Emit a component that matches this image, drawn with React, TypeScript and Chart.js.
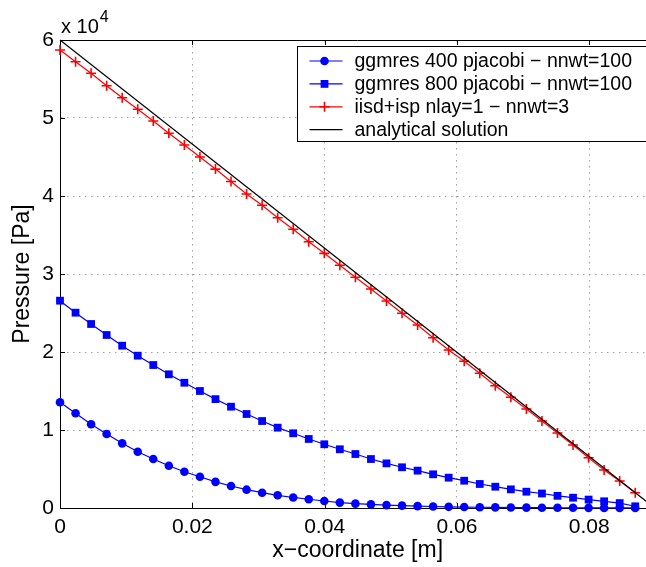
import React, { useEffect, useRef } from "react";
import { Chart, registerables } from "chart.js";

Chart.register(...registerables);

const FONT = '"Liberation Sans", Arial, Helvetica, sans-serif';

// node coordinates [m]
const xNodes = [
  0, 0.00235, 0.0047, 0.00705, 0.0094, 0.01175, 0.0141, 0.01645, 0.0188, 0.02115,
  0.0235, 0.02585, 0.0282, 0.03055, 0.0329, 0.03525, 0.0376, 0.03995, 0.0423, 0.04465,
  0.047, 0.04935, 0.0517, 0.05405, 0.0564, 0.05875, 0.0611, 0.06345, 0.0658, 0.06815,
  0.0705, 0.07285, 0.0752, 0.07755, 0.0799, 0.08225, 0.0846, 0.08695,
];

// pressure [Pa]
const ggmres400 = [
  13550, 12140, 10730, 9490, 8290, 7220, 6280, 5420, 4650, 4000,
  3350, 2820, 2350, 1960, 1630, 1350, 1120, 900, 690, 560,
  460, 370, 300, 240, 190, 150, 120, 95, 75, 60,
  48, 38, 30, 24, 19, 15, 12, 9,
];
const ggmres800 = [
  26580, 25040, 23590, 22180, 20810, 19530, 18330, 17140, 16060, 15000,
  13960, 12990, 12050, 11150, 10300, 9580, 8850, 8170, 7530, 6920,
  6280, 5720, 5220, 4790, 4320, 3890, 3500, 3080, 2730, 2390,
  2090, 1860, 1560, 1320, 1080, 860, 630, 220,
];
const iisdNlay1 = [
  58720, 57220, 55730, 54140, 52600, 51120, 49620, 48040, 46540, 45000,
  43450, 41850, 40260, 38810, 37220, 35730, 34140, 32650, 31120, 29580,
  28080, 26540, 24960, 23460, 21830, 20260, 18810, 17270, 15680, 14190,
  12690, 11150, 9620, 8080, 6450, 4870, 3460, 1960,
];
const analyticX = [0, 0.0899];
const analyticY = [60000, 0];

const seriesLabels = [
  "ggmres 400 pjacobi − nnwt=100",
  "ggmres 800 pjacobi − nnwt=100",
  "iisd+isp nlay=1 − nnwt=3",
  "analytical solution",
];
const xTicks = [0, 0.02, 0.04, 0.06, 0.08];
const xTickLabels = ["0", "0.02", "0.04", "0.06", "0.08"];
const yTicks = [0, 1, 2, 3, 4, 5, 6]; // x 10^4
const yScaleFactor = 10000;
const xTitle = "x−coordinate [m]";
const yTitle = "Pressure [Pa]";
const exponentBase = "x 10";
const exponentPower = "4";

const BLUE = "#0000ff";
const RED = "#ff0000";
const BLACK = "#000000";

const styles = [
  { color: BLUE, marker: "circle" },
  { color: BLUE, marker: "rect" },
  { color: RED, marker: "cross" },
  { color: BLACK, marker: "none" },
];

function drawMarker(ctx: CanvasRenderingContext2D, kind: string, x: number, y: number, color: string) {
  ctx.save();
  ctx.fillStyle = color;
  ctx.strokeStyle = color;
  ctx.lineWidth = 1.6;
  if (kind === "circle") {
    ctx.beginPath();
    ctx.arc(x, y, 4.3, 0, Math.PI * 2);
    ctx.fill();
  } else if (kind === "rect") {
    ctx.fillRect(x - 3.9, y - 3.9, 7.8, 7.8);
  } else if (kind === "cross") {
    ctx.beginPath();
    ctx.moveTo(x - 5, y);
    ctx.lineTo(x + 5, y);
    ctx.moveTo(x, y - 5);
    ctx.lineTo(x, y + 5);
    ctx.stroke();
  }
  ctx.restore();
}

const overlayPlugin = {
  id: "matlabOverlay",
  afterDatasetsDraw(chart: any) {
    const { ctx, chartArea: a, scales } = chart;
    const line = (x1: number, y1: number, x2: number, y2: number) => {
      ctx.beginPath();
      ctx.moveTo(x1, y1);
      ctx.lineTo(x2, y2);
      ctx.stroke();
    };
    ctx.save();
    ctx.strokeStyle = "#000";
    ctx.lineWidth = 1;
    // top frame
    line(a.left, Math.round(a.top) + 0.5, a.right, Math.round(a.top) + 0.5);
    // inward tick marks
    for (const v of xTicks) {
      const px = Math.round(scales.x.getPixelForValue(v)) + 0.5;
      line(px, a.bottom, px, a.bottom - 5);
      line(px, a.top, px, a.top + 5);
    }
    for (const v of yTicks) {
      const py = Math.round(scales.y.getPixelForValue(v * yScaleFactor)) + 0.5;
      line(a.left, py, a.left + 5, py);
      line(a.right, py, a.right - 5, py);
    }

    // legend box
    const lx = Math.round(a.left + 237) + 0.5;
    const ly = Math.round(a.top + 6) + 0.5;
    const lw = a.right - 5 - lx;
    const lh = 95;
    ctx.fillStyle = "#fff";
    ctx.fillRect(lx, ly, lw, lh);
    ctx.strokeStyle = "#000";
    ctx.strokeRect(lx, ly, lw, lh);
    ctx.font = `19.5px ${FONT}`;
    ctx.textBaseline = "middle";
    ctx.textAlign = "left";
    seriesLabels.forEach((label, k) => {
      const ry = ly + 14.5 + k * 22.9;
      const st = styles[k];
      ctx.strokeStyle = st.color;
      ctx.lineWidth = 1.2;
      line(lx + 12, ry, lx + 45, ry);
      drawMarker(ctx, st.marker, lx + 27, ry, st.color);
      ctx.fillStyle = "#000";
      ctx.fillText(label, lx + 57, ry + 1);
    });

    // exponent label
    ctx.fillStyle = "#000";
    ctx.textBaseline = "alphabetic";
    ctx.font = `20px ${FONT}`;
    ctx.fillText(exponentBase, a.left + 1, a.top - 7);
    const w = ctx.measureText(exponentBase).width;
    ctx.font = `16px ${FONT}`;
    ctx.fillText(exponentPower, a.left + 2 + w, a.top - 18);
    ctx.restore();
  },
};

export default function App() {
  const canvasRef = useRef<HTMLCanvasElement | null>(null);

  useEffect(() => {
    const canvas = canvasRef.current;
    if (!canvas) return;
    const mk = (xs: number[], ys: number[]) => xs.map((x, i) => ({ x, y: ys[i] }));
    const chart = new Chart(canvas, {
      type: "scatter",
      data: {
        datasets: [
          {
            label: seriesLabels[0],
            data: mk(xNodes, ggmres400),
            showLine: true,
            borderColor: BLUE,
            backgroundColor: BLUE,
            borderWidth: 1.2,
            pointStyle: "circle",
            pointRadius: 4.3,
            pointBorderWidth: 0,
            pointBackgroundColor: BLUE,
            clip: false,
            order: 3,
          },
          {
            label: seriesLabels[1],
            data: mk(xNodes, ggmres800),
            showLine: true,
            borderColor: BLUE,
            backgroundColor: BLUE,
            borderWidth: 1.2,
            pointStyle: "rect",
            pointRadius: 5.5,
            pointBorderWidth: 0,
            pointBackgroundColor: BLUE,
            clip: false,
            order: 2,
          },
          {
            label: seriesLabels[2],
            data: mk(xNodes, iisdNlay1),
            showLine: true,
            borderColor: RED,
            backgroundColor: RED,
            borderWidth: 1.2,
            pointStyle: "cross",
            pointRadius: 5,
            pointBorderWidth: 1.6,
            pointBorderColor: RED,
            clip: false,
            order: 1,
          },
          {
            label: seriesLabels[3],
            data: mk(analyticX, analyticY),
            showLine: true,
            borderColor: BLACK,
            backgroundColor: BLACK,
            borderWidth: 1.2,
            pointRadius: 0,
            clip: false,
            order: 0,
          },
        ],
      },
      options: {
        responsive: false,
        animation: false,
        devicePixelRatio: 1,
        layout: { padding: { top: 40, right: 24.6, left: 0, bottom: 0 } },
        plugins: {
          legend: { display: false },
          tooltip: { enabled: false },
        },
        scales: {
          x: {
            type: "linear",
            min: 0,
            max: 0.09,
            afterFit: (s: any) => {
              s.height = 59;
            },
            afterBuildTicks: (s: any) => {
              s.ticks = xTicks.map((v) => ({ value: v }));
            },
            ticks: {
              color: "#000",
              font: { family: FONT, size: 21 },
              padding: 7,
              maxRotation: 0,
              callback: (v: any) => {
                const i = xTicks.findIndex((t) => Math.abs(t - Number(v)) < 1e-9);
                return i >= 0 ? xTickLabels[i] : "";
              },
            },
            grid: {
              color: "#a0a0a0",
              lineWidth: 1,
              drawTicks: false,
            },
            border: { display: true, color: "#000", width: 1, dash: [1.5, 4.5] },
            title: {
              display: true,
              text: xTitle,
              color: "#000",
              font: { family: FONT, size: 23 },
              padding: { top: 0, bottom: 3 },
            },
          },
          y: {
            type: "linear",
            min: 0,
            max: 60000,
            afterFit: (s: any) => {
              s.width = 60;
            },
            afterBuildTicks: (s: any) => {
              s.ticks = yTicks.map((v) => ({ value: v * yScaleFactor }));
            },
            ticks: {
              color: "#000",
              font: { family: FONT, size: 21 },
              padding: 6,
              callback: (v: any) => String(Math.round(Number(v) / yScaleFactor)),
            },
            grid: {
              color: "#a0a0a0",
              lineWidth: 1,
              drawTicks: false,
            },
            border: { display: true, color: "#000", width: 1, dash: [1.5, 4.5] },
            title: {
              display: true,
              text: yTitle,
              color: "#000",
              font: { family: FONT, size: 23 },
              padding: { top: 8.5, bottom: 0 },
            },
          },
        },
      },
      plugins: [overlayPlugin],
    } as any);
    return () => chart.destroy();
  }, []);

  return (
    <div
      style={{
        position: "fixed",
        left: 0,
        top: 0,
        width: 646,
        height: 567,
        overflow: "hidden",
        background: "#fff",
      }}
    >
      <canvas ref={canvasRef} width={680} height={567} style={{ display: "block" }} />
    </div>
  );
}
